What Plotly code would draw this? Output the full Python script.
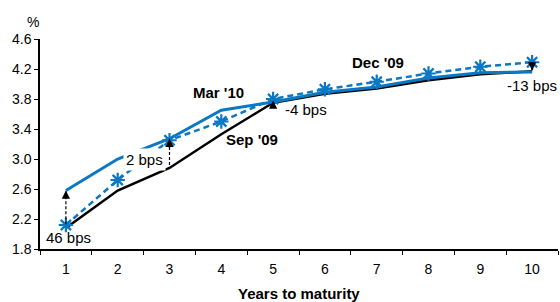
import plotly.graph_objects as go

# ---- data ----
years = ["1", "2", "3", "4", "5", "6", "7", "8", "9", "10"]
mar10 = [2.58, 3.00, 3.27, 3.65, 3.76, 3.89, 3.96, 4.08, 4.15, 4.16]
dec09 = [2.12, 2.72, 3.25, 3.50, 3.80, 3.93, 4.03, 4.14, 4.23, 4.29]
sep09 = [2.08, 2.58, 2.88, 3.33, 3.75, 3.87, 3.94, 4.05, 4.13, 4.17]
yticks = [1.8, 2.2, 2.6, 3.0, 3.4, 3.8, 4.2, 4.6]

# change labels (bps) and their arrows: category index, shaft start, arrow tip
bps_labels = ["46 bps", "2 bps", "-4 bps", "-13 bps"]
bps_label_x = [0.05, 1.51, 4.64, 9.0]
bps_label_y = [1.95, 3.00, 3.66, 3.98]
arrow_idx = [0, 2, 4, 9]
arrow_from = [2.13, 2.92, 3.72, 4.29]
arrow_to = [2.58, 3.27, 3.78, 4.18]

series_names = ["Mar '10", "Sep '09", "Dec '09"]
series_label_x = [2.94, 3.59, 6.03]
series_label_y = [3.89, 3.26, 4.29]

BLUE = "#0A78C2"
FONT = "Liberation Sans, Arial, sans-serif"

fig = go.Figure()
fig.add_trace(go.Scatter(x=years, y=sep09, mode="lines", name="Sep '09",
                         line=dict(color="black", width=2.5)))
fig.add_trace(go.Scatter(x=years, y=mar10, mode="lines", name="Mar '10",
                         line=dict(color=BLUE, width=3)))
fig.add_trace(go.Scatter(x=years, y=dec09, mode="lines+markers", name="Dec '09",
                         line=dict(color=BLUE, width=2.5, dash="6px,4px"),
                         marker=dict(symbol="asterisk-open", size=12,
                                     line=dict(color=BLUE, width=2.2))))

# dashed arrow shafts + heads
for i, y0, y1 in zip(arrow_idx, arrow_from, arrow_to):
    fig.add_shape(type="line", xref="x", yref="y", x0=i, x1=i, y0=y0, y1=y1,
                  line=dict(color="black", width=1.2, dash="3px,2px"))
    fig.add_annotation(x=i, y=y1, xref="x", yref="y", text="", showarrow=True,
                       ax=0, ay=(8 if y1 > y0 else -8), arrowhead=2,
                       arrowsize=1.1, arrowwidth=1.5, arrowcolor="black")

for t, x, y in zip(bps_labels, bps_label_x, bps_label_y):
    fig.add_annotation(x=x, y=y, xref="x", yref="y", text=t, showarrow=False,
                       font=dict(family=FONT, size=15, color="black"),
                       bgcolor="white" if t == "2 bps" else None, borderpad=2)

for t, x, y in zip(series_names, series_label_x, series_label_y):
    fig.add_annotation(x=x, y=y, xref="x", yref="y", text="<b>%s</b>" % t,
                       showarrow=False,
                       font=dict(family=FONT, size=15, color="black"))

fig.add_annotation(x=-0.014, y=1.08, xref="paper", yref="paper", text="%",
                   xanchor="center", yanchor="middle",
                   showarrow=False, font=dict(family=FONT, size=14, color="black"))
fig.add_annotation(x=0.5, y=-0.214, xref="paper", yref="paper",
                   xanchor="center", yanchor="middle",
                   text="<b>Years to maturity</b>", showarrow=False,
                   font=dict(family=FONT, size=15, color="black"))

fig.update_layout(
    width=560, height=302,
    margin=dict(l=40, r=2, t=39, b=53),
    paper_bgcolor="white", plot_bgcolor="white",
    showlegend=False,
    font=dict(family=FONT, size=14, color="black"),
)
fig.update_xaxes(type="category", range=[-0.5, 9.5], tickson="boundaries",
                 ticks="outside", ticklen=4, tickcolor="black", showline=True,
                 linecolor="black", linewidth=1.5, showgrid=False, zeroline=False,
                 ticklabelstandoff=6,
                 tickfont=dict(family=FONT, size=14))
fig.update_yaxes(range=[1.8, 4.6], tickvals=yticks,
                 ticktext=["%.1f" % v for v in yticks],
                 ticks="outside", ticklen=4, tickcolor="black", showline=True,
                 linecolor="black", linewidth=1.5, showgrid=False, zeroline=False,
                 tickfont=dict(family=FONT, size=14))

fig.write_html("out.html", config={"displayModeBar": False},
               post_script="document.body.style.margin='0';document.body.style.padding='0';")
